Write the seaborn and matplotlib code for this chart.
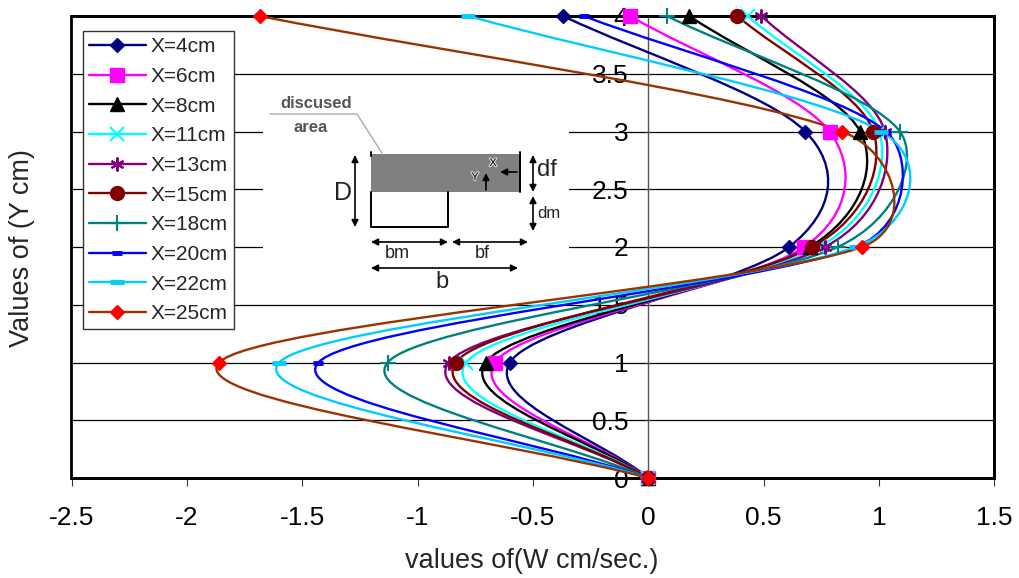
import numpy as np
import pandas as pd
import matplotlib
matplotlib.use('Agg')
import matplotlib.pyplot as plt
import matplotlib.patheffects as pe
import seaborn as sns
from matplotlib.lines import Line2D
from matplotlib.path import Path
from matplotlib.patches import PathPatch, Rectangle
from matplotlib.transforms import Affine2D

# values
y_levels = [0, 1, 2, 3, 4]
x4 = [0, -0.60, 0.61, 0.68, -0.37]
x6 = [0, -0.665, 0.675, 0.785, -0.08]
x8 = [0, -0.705, 0.70, 0.918, 0.177]
x11 = [0, -0.79, 0.74, 1.00, 0.43]
x13 = [0, -0.865, 0.765, 1.025, 0.49]
x15 = [0, -0.835, 0.71, 0.975, 0.385]
x18 = [0, -1.13, 0.82, 1.09, 0.08]
x20 = [0, -1.43, 0.90, 1.03, -0.28]
x22 = [0, -1.60, 0.90, 1.01, -0.78]
x25 = [0, -1.86, 0.925, 0.84, -1.685]

labels = ['X=4cm', 'X=6cm', 'X=8cm', 'X=11cm', 'X=13cm',
          'X=15cm', 'X=18cm', 'X=20cm', 'X=22cm', 'X=25cm']
series = [x4, x6, x8, x11, x13, x15, x18, x20, x22, x25]
line_colors = ['#000080', '#FF00FF', '#000000', '#00FFFF', '#800080',
               '#800000', '#008080', '#0000FF', '#00CCFF', '#993300']
marker_colors = ['#000080', '#FF00FF', '#000000', '#00FFFF', '#800080',
                 '#800000', '#008080', '#0000FF', '#00CCFF', '#FF0000']
markers = ['D', 's', '^', 'x', (6, 2, 0), 'o', '+', '_', '_', 'D']
marker_sizes = [7, 10, 10, 10, 10, 10, 11, 7, 10, 7]
marker_widths = [1, 1, 1, 1.5, 1.5, 1, 1.5, 3.5, 3.5, 1]

FONT = 'Liberation Sans'


def smooth_path(xs, ys):
    # Excel style smoothed line, distances measured with the plot aspect
    pts = np.column_stack([xs, ys]).astype(float)
    asp = np.array([1.0, 0.5])
    n = len(pts)
    verts = [pts[0]]
    codes = [Path.MOVETO]
    for i in range(n - 1):
        p0 = pts[max(i - 1, 0)]
        p1 = pts[i]
        p2 = pts[i + 1]
        p3 = pts[min(i + 2, n - 1)]
        d12 = np.linalg.norm((p2 - p1) * asp)
        d02 = np.linalg.norm((p2 - p0) * asp)
        d13 = np.linalg.norm((p3 - p1) * asp)
        big_a = d02 / 6 >= d12 / 2
        big_b = d13 / 6 >= d12 / 2
        if not big_a and not big_b:
            f = 1 / 6 if i > 0 else 1 / 3
            g = 1 / 6 if i + 2 < n else 1 / 3
        elif big_a and big_b:
            f = d12 / 2 / d02
            g = d12 / 2 / d13
        elif big_a:
            f = d12 / 2 / d02
            g = d12 / 2 / d02
        else:
            f = d12 / 2 / d13
            g = d12 / 2 / d13
        verts += [p1 + (p2 - p0) * f, p2 - (p3 - p1) * g, p2]
        codes += [Path.CURVE4, Path.CURVE4, Path.CURVE4]
    return Path(verts, codes)


sns.set_style('white')
plt.rcParams['font.family'] = [FONT, 'DejaVu Sans']

fig = plt.figure(figsize=(10.2, 5.78), dpi=100)
ax = fig.add_axes([71.5 / 1020, 100 / 578, 923 / 1020, 462 / 578])

# curves, then the markers on top
for vals, col, in zip(series, line_colors):
    ax.add_patch(PathPatch(smooth_path(vals, y_levels), fill=False, edgecolor=col,
                           lw=1.7, zorder=3, clip_on=False, capstyle='round'))

handles = []
for vals, lab, lc, mc, m, ms, mw in zip(series, labels, line_colors, marker_colors,
                                        markers, marker_sizes, marker_widths):
    df = pd.DataFrame({'x': vals, 'y': y_levels})
    sns.lineplot(data=df, x='x', y='y', sort=False, estimator=None, ax=ax, color=mc,
                 linewidth=0, marker=m, markersize=ms, markeredgewidth=mw,
                 markeredgecolor=mc, zorder=4, clip_on=False, legend=False)
    handles.append(Line2D([], [], color=lc, lw=1.7, marker=m, markersize=ms,
                          markerfacecolor=mc, markeredgecolor=mc, markeredgewidth=mw))

ax.set_xlabel('')
ax.set_ylabel('')
for s in ['top', 'right', 'bottom']:
    ax.spines[s].set_linewidth(2)
    ax.spines[s].set_color('black')
ax.spines['left'].set_position(('data', 0))
ax.spines['left'].set_color('#555555')
ax.spines['left'].set_linewidth(1)
ax.spines['left'].set_zorder(2)

ax.set_xlim(-2.5, 1.5)
ax.set_ylim(0, 4)
ax.set_xticks([-2.5, -2, -1.5, -1, -0.5, 0, 0.5, 1, 1.5])
ax.set_xticklabels(['-2.5', '-2', '-1.5', '-1', '-0.5', '0', '0.5', '1', '1.5'])
ax.set_yticks([0, 0.5, 1, 1.5, 2, 2.5, 3, 3.5, 4])
ax.set_yticklabels(['0', '0.5', '1', '1.5', '2', '2.5', '3', '3.5', '4'])
ax.grid(axis='y', color='black', lw=0.9, zorder=1)
ax.grid(axis='x', visible=False)
ax.set_axisbelow(True)

ax.add_patch(Rectangle((0, 0), 1, 1, transform=ax.transAxes, fill=False,
                       edgecolor='black', lw=2, zorder=2.5, clip_on=False))
ax.tick_params(axis='x', bottom=True, length=6, width=0.8, color='#333333', pad=14,
               labelcolor='black', labelsize=19)
ax.tick_params(axis='y', left=True, length=5, width=0.8, color='#333333', direction='inout',
               pad=12, labelcolor='black', labelsize=19)

fig.text(532 / 1020, 1 - 561 / 578, 'values of(W cm/sec.)', fontsize=19.5, ha='center', va='center')
fig.text(22 / 1020, 1 - 248 / 578, 'Values of (Y cm)', fontsize=19.5, rotation=90, ha='center', va='center')

leg = ax.legend(handles, labels, loc='upper left', bbox_to_anchor=(83 / 1020, 1 - 31 / 578),
                bbox_transform=fig.transFigure, fontsize=15, frameon=True, fancybox=False,
                framealpha=1, edgecolor='#333333', handlelength=2.7, handletextpad=0.25,
                labelspacing=0.512, borderpad=0.3, borderaxespad=0, numpoints=1)
leg.set_zorder(6)
leg.get_frame().set_linewidth(1)

# inset sketch of the section, placed in picture pixels
px = Affine2D().scale(1, -1).translate(0, 578)


def sk_line(xs, ys, color='black', lw=1.4):
    ax.add_line(Line2D(xs, ys, transform=px, color=color, lw=lw, zorder=2.2, clip_on=False))


def sk_text(x, y, s, size, color='#222222', weight='normal', halo=False):
    t = ax.text(x, y, s, transform=px, fontsize=size, color=color, ha='center', va='center',
                fontweight=weight, zorder=2.3, clip_on=False)
    if halo:
        t.set_path_effects([pe.withStroke(linewidth=1.5, foreground='#dddddd')])


def sk_arrow(x0, y0, x1, y1, both=True):
    style = '<|-|>' if both else '-|>'
    ax.annotate('', xy=(x1, y1), xytext=(x0, y0), xycoords=px, textcoords=px, zorder=2.3,
                arrowprops=dict(arrowstyle=style, color='black', lw=1.2, shrinkA=0, shrinkB=0,
                                mutation_scale=10))


ax.add_patch(Rectangle((263, 88), 306, 208, transform=px, facecolor='white', edgecolor='none',
                       zorder=2.1, clip_on=False))
ax.add_patch(Rectangle((371, 154), 149, 38, transform=px, facecolor='#808080', edgecolor='none',
                       zorder=2.2, clip_on=False))
sk_line([270, 357, 382], [114, 114, 153], color='#aaaaaa', lw=1)
sk_line([520, 520], [152, 192])
sk_line([371, 371], [152, 156])
sk_line([371, 371, 448, 448], [192, 227, 227, 192])
sk_text(316, 104, 'discused', 12, color='#555555', weight='bold')
sk_text(311, 128, 'area', 12, color='#555555', weight='bold')
sk_text(343, 193, 'D', 18)
sk_text(547, 170, 'df', 17)
sk_text(549, 214, 'dm', 12)
sk_text(397, 254, 'bm', 13)
sk_text(482, 254, 'bf', 13)
sk_text(442, 282, 'b', 17)
sk_text(493, 163, 'X', 8, color='black', halo=True)
sk_text(475, 177, 'Y', 8, color='black', halo=True)
sk_arrow(355, 155, 355, 227)
sk_arrow(533, 155, 533, 192)
sk_arrow(533, 196, 533, 231)
sk_arrow(371, 242, 448, 242)
sk_arrow(452, 242, 528, 242)
sk_arrow(371, 268, 518, 268)
sk_arrow(517, 172, 500, 172, both=False)
sk_arrow(486, 190, 486, 173, both=False)

fig.savefig('out.png', dpi=100)
